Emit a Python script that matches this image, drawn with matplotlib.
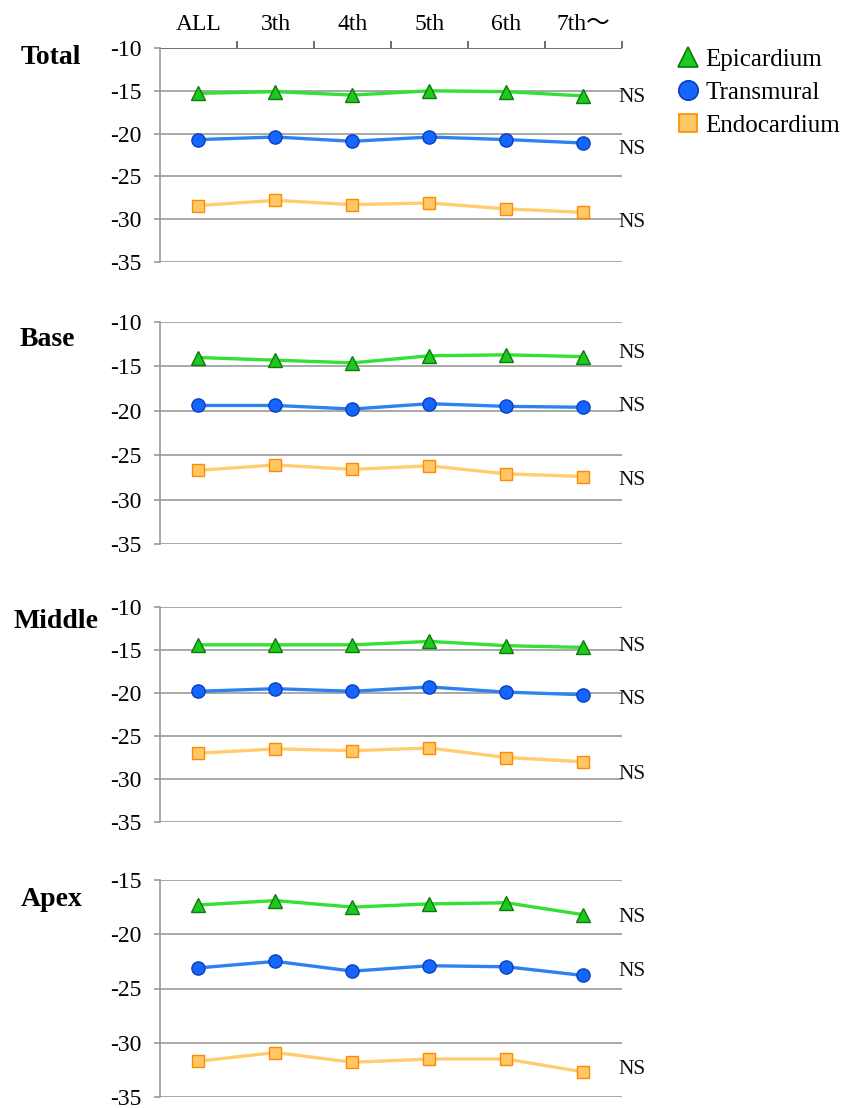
import matplotlib
matplotlib.use("Agg")
import matplotlib.pyplot as plt
from matplotlib.lines import Line2D
import matplotlib.transforms as mtransforms

categories = ["ALL", "3th", "4th", "5th", "6th", "7th〜"]
series_names = ["Epicardium", "Transmural", "Endocardium"]
panels = ["Total", "Base", "Middle", "Apex"]

total_epi = [-15.3, -15.1, -15.5, -15.0, -15.1, -15.6]
total_trans = [-20.7, -20.4, -20.9, -20.4, -20.7, -21.1]
total_endo = [-28.4, -27.8, -28.3, -28.1, -28.8, -29.2]

base_epi = [-14.0, -14.3, -14.6, -13.8, -13.7, -13.9]
base_trans = [-19.4, -19.4, -19.8, -19.2, -19.5, -19.6]
base_endo = [-26.7, -26.1, -26.6, -26.2, -27.1, -27.4]

middle_epi = [-14.4, -14.4, -14.4, -14.0, -14.5, -14.7]
middle_trans = [-19.8, -19.5, -19.8, -19.3, -19.9, -20.2]
middle_endo = [-27.0, -26.5, -26.7, -26.4, -27.5, -28.0]

apex_epi = [-17.3, -16.9, -17.5, -17.2, -17.1, -18.2]
apex_trans = [-23.1, -22.5, -23.4, -22.9, -23.0, -23.8]
apex_endo = [-31.7, -30.9, -31.8, -31.5, -31.5, -32.7]

# y positions of the "NS" labels per panel (data units)
total_ns = [-15.8, -21.9, -30.4]
base_ns = [-13.5, -19.5, -27.8]
middle_ns = [-14.65, -20.8, -29.5]
apex_ns = [-18.5, -23.4, -32.5]

ylims = {"Total": (-35, -10), "Base": (-35, -10), "Middle": (-35, -10), "Apex": (-35, -15)}

data = {
    "Total": (total_epi, total_trans, total_endo, total_ns),
    "Base": (base_epi, base_trans, base_endo, base_ns),
    "Middle": (middle_epi, middle_trans, middle_endo, middle_ns),
    "Apex": (apex_epi, apex_trans, apex_endo, apex_ns),
}

W, H = 845, 1108
fig = plt.figure(figsize=(W / 100, H / 100), dpi=100)
serif = ["Liberation Serif", "DejaVu Serif"]
plt.rcParams["font.family"] = serif

# pixel extents (top, bottom) of each panel
extents = {"Total": (48, 262), "Base": (322, 544), "Middle": (607, 822), "Apex": (880, 1097)}
title_pos = {"Total": (21, 58), "Base": (20, 340), "Middle": (14, 621), "Apex": (21, 900)}
left_px, right_px = 160, 622

styles = [
    dict(color="#33e033", marker="^", mfc="#1ec81e", mec="#0d7a0d", ms=9.5),
    dict(color="#2f80f0", marker="o", mfc="#1565ff", mec="#0a3fc0", ms=9.5),
    dict(color="#ffcc70", marker="s", mfc="#ffc766", mec="#ff8a00", ms=8.5),
]
grid_c = "#9a9a9a"

xs = [i + 0.5 for i in range(len(categories))]

for name in panels:
    top, bot = extents[name]
    ax = fig.add_axes([left_px / W, 1 - bot / H, (right_px - left_px) / W, (bot - top) / H])
    ax.set_facecolor("none")
    lo, hi = ylims[name]
    ax.set_xlim(0, 6)
    ax.set_ylim(lo, hi)
    ax.set_yticks(list(range(lo, hi + 1, 5)))
    ax.set_yticklabels([str(v) for v in range(lo, hi + 1, 5)], fontsize=17)
    ax.tick_params(axis="y", length=4, color=grid_c, pad=9, width=1.2)
    for v in range(lo, hi + 1, 5):
        c = "#555555" if (name == "Total" and v == hi) else grid_c
        ax.axhline(v, color=c, lw=1.2, zorder=1)
    for s in ["top", "right", "bottom"]:
        ax.spines[s].set_visible(False)
    ax.spines["left"].set_color(grid_c)
    ax.spines["left"].set_linewidth(1.2)
    ax.set_xticks([])
    epi, trans, endo, ns = data[name]
    for vals, st in zip([epi, trans, endo], styles):
        ax.plot(xs, vals, lw=2.4, zorder=3, markeredgewidth=1.0, **st)
    for y in ns:
        ax.text(5.95, y, "NS", fontsize=15.5, ha="left", va="center", color="#111111")
    tx, ty = title_pos[name]
    fig.text(tx / W, 1 - ty / H, name, fontsize=20, fontweight="bold", ha="left", va="center")
    if name == "Total":
        ax.xaxis.set_ticks_position("top")
        ax.set_xticks(list(range(1, 7)))
        ax.set_xticklabels([])
        ax.tick_params(axis="x", direction="out", length=5, color="#555555", width=1.2)
        trans_b = mtransforms.blended_transform_factory(ax.transData, ax.transAxes)
        for x, lab in zip(xs, categories):
            ax.text(x, 1 + 24 / (bot - top), lab, transform=trans_b, ha="center", va="center",
                    fontsize=17, family=["Liberation Serif", "Noto Sans CJK JP"])

handles = [Line2D([], [], linestyle="none", marker=st["marker"], markerfacecolor=st["mfc"],
                  markeredgecolor=st["mec"], markersize=14 if st["marker"] != "s" else 13,
                  markeredgewidth=1.2) for st in styles]
fig.legend(handles, series_names, loc="upper left", bbox_to_anchor=(658 / W, 1 - 31 / H),
           frameon=False, fontsize=18, handlelength=1.0, handletextpad=0.2, labelspacing=0.42,
           borderpad=0.2)

fig.savefig("out.png", dpi=100)
